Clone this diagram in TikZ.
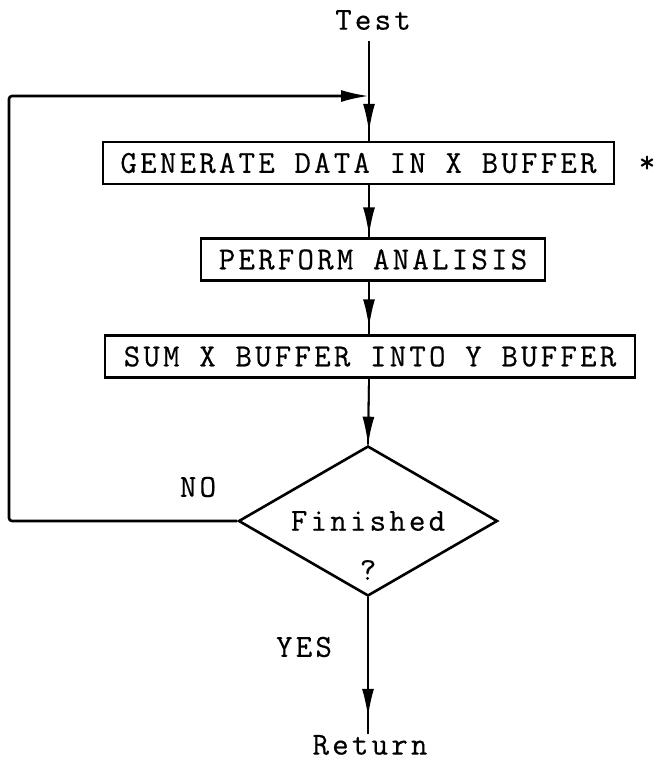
\documentclass[tikz,border=0pt]{standalone}
\usepackage{fontspec}
\newfontfamily\tw{Latin Modern Mono}[LetterSpace=10,FakeBold=0.4]
\usetikzlibrary{arrows.meta,shapes.geometric}
\begin{document}
\begin{tikzpicture}[x=1pt,y=-1pt,
  every node/.style={font=\tw\fontsize{32}{36}\selectfont,inner sep=1pt},
  procbox/.style={draw,line width=2.4pt,inner sep=0pt,minimum height=42pt},
  decision/.style={draw,diamond,aspect=1.73,line width=2.6pt,inner sep=0pt,
                   minimum width=259pt,minimum height=150pt},
  flow/.style={line width=1.8pt,
               postaction={draw,shorten >=#1,-{Latex[length=28pt,width=12pt]}}},
  flow/.default=0pt,
  loopline/.style={line width=2.6pt,rounded corners=3pt,
                   -{Latex[length=28pt,width=12pt]}}]
\useasboundingbox (0,0) rectangle (657,761);

% main flow axis and loop corner
\coordinate (ax) at (369,0);
\coordinate (join) at (369,96);
\coordinate (cl) at (9,96);

% labels and process boxes
\node (test) at (373,20) {Test};
\node[procbox,minimum width=511pt] (gen) at (358.5,163) {GENERATE DATA IN X BUFFER};
\node[font=\tw\bfseries\fontsize{32}{36}\selectfont] (star) at (647,164) {*};
\node[procbox,minimum width=344pt] (perf) at (373,259.5) {PERFORM ANALISIS};
\node[procbox,minimum width=530pt] (sum) at (370,356.5) {SUM X BUFFER INTO Y BUFFER};

% decision
\node[decision] (dec) at (368,521) {Finished};
\node (q) at (368,570) {?};
\node (no) at (198,487) {NO};
\node (yes) at (304,647) {YES};
\node (ret) at (370,745) {Return};

% connectors
\draw[flow=9pt, shorten <=10pt] (test.south -| ax) -- (gen.north -| ax);
\draw[flow=2pt] (gen.south -| ax) -- (perf.north -| ax);
\draw[flow=7pt] (perf.south -| ax) -- (sum.north -| ax);
\draw[flow] (sum.south -| ax) -- (dec.north);
\draw[flow=17pt] (dec.south) -- (ret.north -| dec.south);
\draw[loopline] (dec.west) -| (cl) -- (join);
\end{tikzpicture}
\end{document}
